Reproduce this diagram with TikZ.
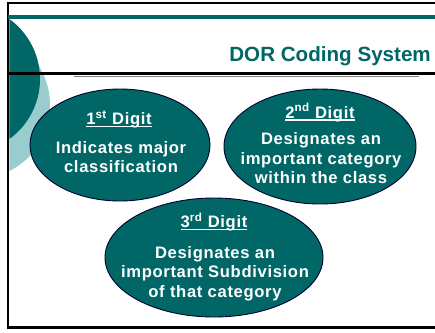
\documentclass[tikz,border=0pt]{standalone}
\usepackage{fontspec}
\setmainfont{Liberation Sans}
\newfontfamily\ovalfont[LetterSpace=4]{Liberation Sans}
\usetikzlibrary{shapes.geometric}
\definecolor{tealD}{HTML}{006666}
\definecolor{tealL}{HTML}{99CCCC}
\definecolor{navyO}{HTML}{000033}
\newcommand\headul[1]{\setbox0=\hbox{#1}\rlap{\rule[-2.6pt]{\wd0}{1.2pt}}\box0}
\begin{document}
\begin{tikzpicture}[x=1pt,y=-1pt,
  oval/.style={ellipse, draw=navyO, line width=0.9pt, fill=tealD, inner sep=0pt},
  ovaltext/.style={anchor=base, text=white, font=\ovalfont\bfseries\fontsize{16.6}{19}\selectfont, inner sep=0pt},
  frameline/.style={line width=2.5pt, black}]
\useasboundingbox (0,0) rectangle (435,332);
% decorative circles
\begin{scope}
\clip (9.3,18.8) rectangle (435,326);
\fill[tealL] (-24,105) circle[radius=74];
\fill[tealD] (-34,79) circle[radius=74];
\end{scope}
% frame and rules
\draw[frameline] (6.7,3) -- (435,3);
\draw[frameline] (8,1.8) -- (8,329);
\draw[line width=3.2pt] (6.7,327.5) -- (435,327.5);
\draw[tealD, line width=4pt] (8,16.7) -- (435,16.7);
\draw[line width=3.5pt] (8,73.5) -- (435,73.5);
\draw[gray, line width=1.2pt] (74,76.1) -- (419,76.1);
% title
\node[anchor=base east, text=tealD, font=\bfseries\fontsize{20.6}{24}\selectfont, inner sep=0pt] (title) at (431,61.5) {DOR Coding System};
% ovals
\node[oval, minimum width=180pt, minimum height=112pt] (d1) at (120,145) {};
\node[oval, minimum width=192pt, minimum height=115pt] (d2) at (320,146.5) {};
\node[oval, minimum width=218pt, minimum height=119pt] (d3) at (214,257.5) {};
% texts
\node[ovaltext] (d1h) at (119,124.5) {\headul{1\textsuperscript{st} Digit}};
\node[ovaltext] (d1a) at (121,153.5) {Indicates major};
\node[ovaltext] (d1b) at (121,172) {classification};
\node[ovaltext] (d2h) at (320,118) {\headul{2\textsuperscript{nd} Digit}};
\node[ovaltext] (d2a) at (321,144) {Designates an};
\node[ovaltext] (d2b) at (321,164) {important category};
\node[ovaltext] (d2c) at (321,183.5) {within the class};
\node[ovaltext] (d3h) at (214,227.5) {\headul{3\textsuperscript{rd} Digit}};
\node[ovaltext] (d3a) at (215,258) {Designates an};
\node[ovaltext] (d3b) at (215,277.5) {important Subdivision};
\node[ovaltext] (d3c) at (215,297) {of that category};
\end{tikzpicture}
\end{document}
